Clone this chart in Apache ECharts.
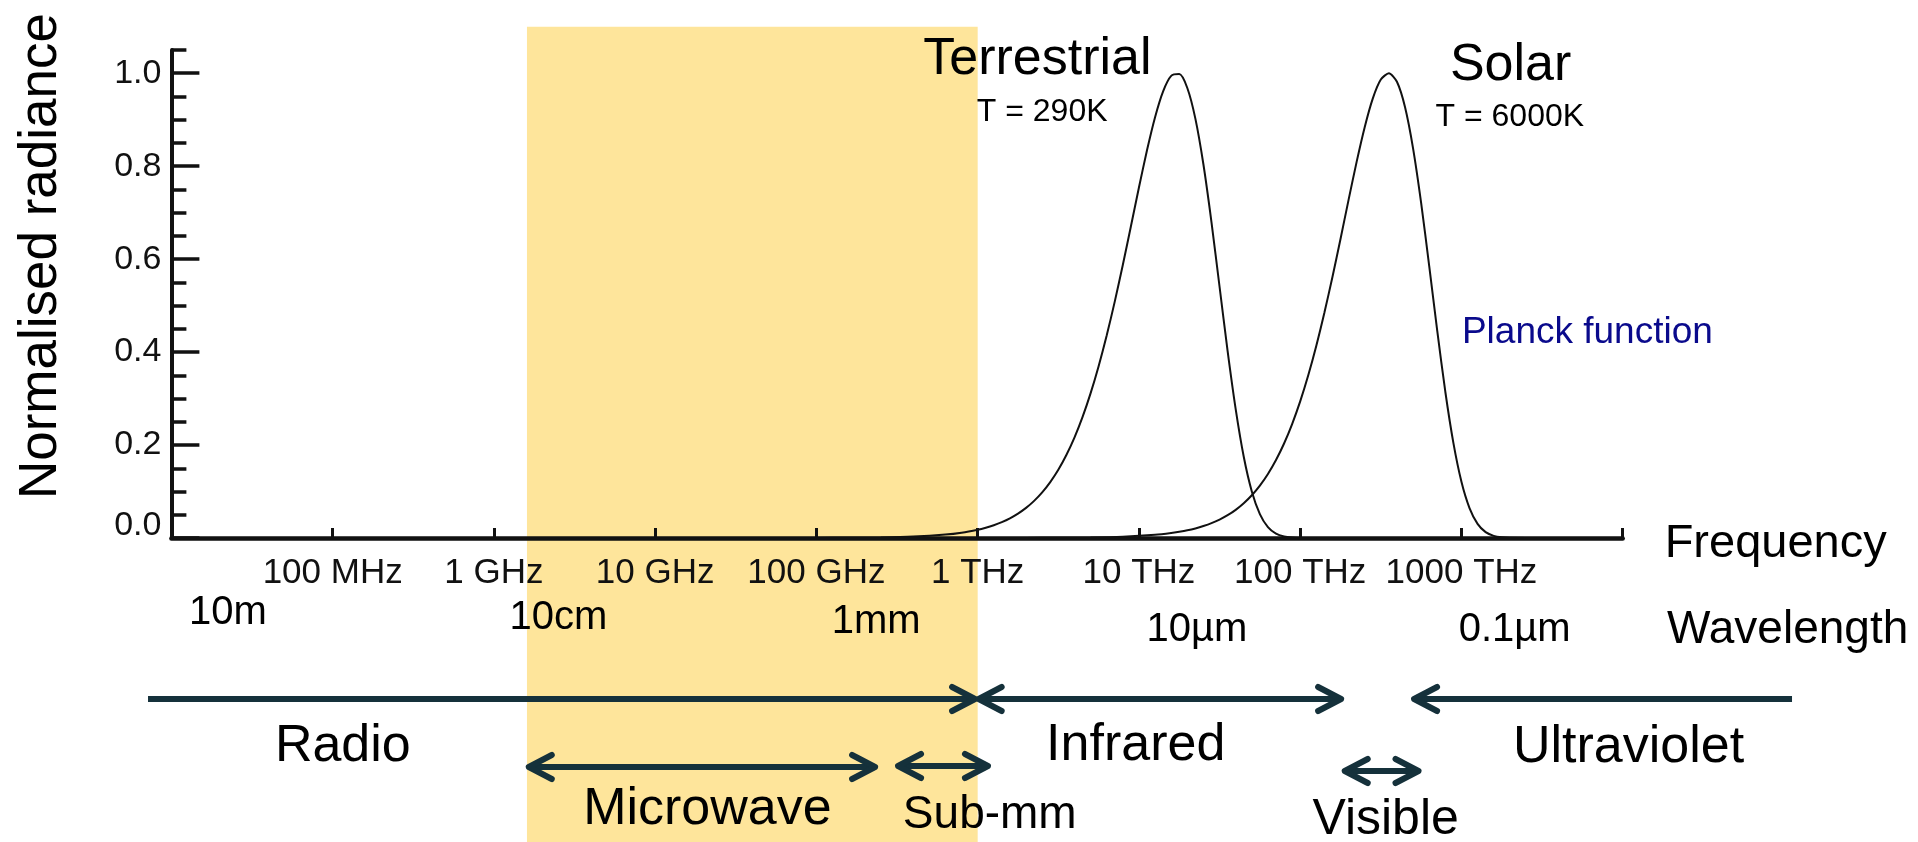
<!DOCTYPE html>
<html>
<head>
<meta charset="utf-8">
<script src="https://cdn.jsdelivr.net/npm/echarts@6/dist/echarts.min.js"></script>
<style>
html, body { margin: 0; padding: 0; background: #ffffff; }
#chart { width: 1918px; height: 842px; }
</style>
</head>
<body>
<div id="chart"></div>
<script>
// ---------------- DATA ----------------
// x is log10(frequency / Hz)
const freqTickLabels = ['', '100 MHz', '1 GHz', '10 GHz', '100 GHz', '1 THz', '10 THz', '100 THz', '1000 THz', ''];
const yMajorTicks = [0, 0.2, 0.4, 0.6, 0.8, 1.0];
const yMinorTicks = [0.05, 0.1, 0.15, 0.25, 0.3, 0.35, 0.45, 0.5, 0.55, 0.65, 0.7, 0.75, 0.85, 0.9, 0.95, 1.05];

const terrestrialLogF = [7.0, 11.0, 11.2, 11.4, 11.6, 11.8, 11.9,
  12.0, 12.05, 12.1, 12.15, 12.2, 12.25, 12.3, 12.35, 12.4, 12.45, 12.5, 12.55, 12.6, 12.65, 12.7, 12.75, 12.8, 12.85, 12.9, 12.95,
  13.0, 13.05, 13.1, 13.15, 13.2, 13.25, 13.3, 13.35, 13.4, 13.45, 13.5, 13.55, 13.6, 13.65, 13.7, 13.75, 13.8, 13.85, 13.9, 13.95,
  14.0, 14.1];
const terrestrialRad = [0, 0.0002, 0.0005, 0.0012, 0.003, 0.0073, 0.0114,
  0.0178, 0.0221, 0.0275, 0.0342, 0.0424, 0.0525, 0.0648, 0.0799, 0.0982, 0.1203, 0.1468, 0.1785, 0.216, 0.26, 0.3111, 0.3696, 0.4355, 0.5086, 0.5875, 0.6704,
  0.7541, 0.8342, 0.9054, 0.961, 0.9942, 0.9981, 0.9683, 0.9023, 0.8036, 0.6793, 0.5406, 0.402, 0.2772, 0.1747, 0.1001, 0.0514, 0.0233, 0.0092, 0.0031, 0.0009,
  0.0002, 0];

const solarLogF = [7.0, 12.3, 12.5, 12.7, 12.9, 13.1, 13.2, 13.25,
  13.3, 13.35, 13.4, 13.45, 13.5, 13.55, 13.6, 13.65, 13.7, 13.75, 13.8, 13.85, 13.9, 13.95, 14.0, 14.05, 14.1, 14.15, 14.2, 14.25,
  14.3, 14.35, 14.4, 14.45, 14.5, 14.55, 14.6, 14.65, 14.7, 14.75, 14.8, 14.85, 14.9, 14.95, 15.0, 15.05, 15.1, 15.15, 15.2, 15.25,
  15.3, 15.4];
const solarRad = [0, 0.0002, 0.0005, 0.0011, 0.0028, 0.0068, 0.0106, 0.0133,
  0.0165, 0.0206, 0.0257, 0.0319, 0.0396, 0.049, 0.0606, 0.0748, 0.092, 0.1128, 0.1378, 0.1677, 0.2033, 0.2452, 0.2939, 0.35, 0.4136, 0.4845, 0.5617, 0.6435,
  0.7275, 0.8093, 0.8839, 0.9454, 0.9864, 1.0, 0.9816, 0.9273, 0.8384, 0.721, 0.5855, 0.4454, 0.3147, 0.2047, 0.121, 0.0644, 0.0305, 0.0126, 0.0045, 0.0014,
  0.0003, 0];

const microwaveBand = [9.205, 12.0];

const wavelengthLabels = ['10m', '10cm', '1mm', '10\u00b5m', '0.1\u00b5m'];
const wavelengthLogF = [7.35, 9.40, 11.37, 13.36, 15.33];

const curveLabels = ['Terrestrial', 'T = 290K', 'Solar', 'T = 6000K'];
const curveLabelLogF = [12.37, 12.40, 15.305, 15.30];

const axisTitles = ['Frequency', 'Wavelength'];
const axisTitleLogF = [16.26, 16.275];

const regionNames = ['Radio', 'Infrared', 'Ultraviolet', 'Microwave', 'Sub-mm', 'Visible'];
const regionFrom = [6.855, 12.0, 14.70, 9.21, 11.50, 14.27];
const regionTo = [11.99, 14.26, 17.05, 11.37, 12.07, 14.74];
const regionHeadFrom = [0, 1, 1, 1, 1, 1];
const regionHeadTo = [1, 1, 0, 1, 1, 1];
const regionLabelLogF = [8.063, 12.98, 16.036, 10.324, 12.075, 14.53];

// ---------------- LAYOUT / STYLE ----------------
const FONT = "'Liberation Sans', Arial, Helvetica, sans-serif";
const INK = '#111111';
const ARROW = '#15313b';
const BAND = '#fee59b';
const AX_MIN = 7, AX_MAX = 16;
const G0 = { left: 171.4, right: 295.3, top: 50, bottom: 304 };
const PX = (1918 - G0.left - G0.right) / (AX_MAX - AX_MIN);
const OV_MIN = 6.5, OV_MAX = 17.5;
const G1 = { left: G0.left - (AX_MIN - OV_MIN) * PX, right: G0.right - (OV_MAX - AX_MAX) * PX, top: 0, bottom: 0 };

// overlay rows (pixel rows of the annotation overlay)
const bandTop = 26.7;
const curveLabelRows = [60, 112, 66, 117];
const curveLabelSizes = [52, 32, 52, 32];
const wavelengthRows = [613, 618, 621.5, 630, 630];
const axisTitleRows = [544, 630];
const axisTitleSizes = [47, 46];
const regionArrowRows = [699, 699, 699, 767, 766, 771];
const regionLabelRows = [747, 746, 748, 810, 815, 820];
const regionLabelSizes = [52, 52, 52, 52, 46, 50];
const HL = 24, HH = 12;

function textSeries(texts, logF, rows, sizes, color, align) {
  return {
    type: 'custom', xAxisIndex: 1, yAxisIndex: 2, z: 6, silent: true,
    data: texts.map((t, i) => [logF[i], rows[i], i]),
    renderItem: function (params, api) {
      const i = api.value(2);
      const p = api.coord([api.value(0), api.value(1)]);
      return {
        type: 'text', x: p[0], y: p[1],
        style: { text: texts[i], fontSize: sizes[i], fontFamily: FONT, fill: color, align: align, verticalAlign: 'middle' }
      };
    }
  };
}

const chart = echarts.init(document.getElementById('chart'), null, { renderer: 'canvas' });

const option = {
  animation: false,
  backgroundColor: '#ffffff',
  grid: [
    { left: G0.left, right: G0.right, top: G0.top, bottom: G0.bottom, containLabel: false },
    { left: G1.left, right: G1.right, top: G1.top, bottom: G1.bottom, containLabel: false }
  ],
  xAxis: [
    {
      type: 'value', gridIndex: 0, min: AX_MIN, max: AX_MAX, interval: 1, z: 3,
      axisLine: { show: true, onZero: false, lineStyle: { color: INK, width: 4.5 } },
      axisTick: { show: true, inside: true, length: 10, lineStyle: { color: INK, width: 3 } },
      axisLabel: { show: true, margin: 18, fontSize: 35, fontFamily: FONT, color: INK,
        formatter: function (v) { return freqTickLabels[Math.round(v - AX_MIN)] || ''; } },
      splitLine: { show: false }
    },
    { type: 'value', gridIndex: 1, min: OV_MIN, max: OV_MAX, show: false }
  ],
  yAxis: [
    {
      type: 'value', gridIndex: 0, min: 0, max: 1.05, position: 'left', z: 3,
      axisLine: { show: true, onZero: false, lineStyle: { color: INK, width: 4 } },
      axisTick: { show: true, inside: true, length: 28, customValues: yMajorTicks, lineStyle: { color: INK, width: 3.5 } },
      axisLabel: { show: true, margin: 10, fontSize: 34, fontFamily: FONT, color: INK,
        customValues: yMajorTicks.filter(v => v > 0),
        formatter: function (v) { return v.toFixed(1); } },
      splitLine: { show: false },
      name: 'Normalised radiance', nameLocation: 'middle', nameGap: 104,
      nameTextStyle: { fontSize: 53, fontFamily: FONT, color: '#000', padding: [0, 0, 0, 76] }
    },
    {
      type: 'value', gridIndex: 0, min: 0, max: 1.05, position: 'left', z: 3,
      axisLine: { show: false },
      axisTick: { show: true, inside: true, length: 15, customValues: yMinorTicks, lineStyle: { color: INK, width: 3.5 } },
      axisLabel: { show: true, margin: 10, fontSize: 34, fontFamily: FONT, color: INK,
        customValues: [0], verticalAlign: 'bottom', lineHeight: 24,
        formatter: function (v) { return v.toFixed(1); } },
      splitLine: { show: false }
    },
    { type: 'value', gridIndex: 1, min: 0, max: 842, inverse: true, show: false }
  ],
  series: [
    {
      name: 'Microwave band', type: 'custom', xAxisIndex: 1, yAxisIndex: 2, z: 0, silent: true,
      data: [[microwaveBand[0], microwaveBand[1]]],
      renderItem: function (params, api) {
        const a = api.coord([api.value(0), bandTop]);
        const b = api.coord([api.value(1), 842]);
        return { type: 'rect', shape: { x: a[0], y: a[1], width: b[0] - a[0], height: b[1] - a[1] }, style: { fill: BAND } };
      }
    },
    {
      name: 'Terrestrial', type: 'line', xAxisIndex: 0, yAxisIndex: 0, z: 4,
      data: terrestrialLogF.map((x, i) => [x, terrestrialRad[i]]),
      showSymbol: false, smooth: 0.25,
      lineStyle: { color: INK, width: 2 }
    },
    {
      name: 'Solar', type: 'line', xAxisIndex: 0, yAxisIndex: 0, z: 4,
      data: solarLogF.map((x, i) => [x, solarRad[i]]),
      showSymbol: false, smooth: 0.25,
      lineStyle: { color: INK, width: 2 }
    },
    {
      name: 'Regions', type: 'custom', xAxisIndex: 1, yAxisIndex: 2, z: 5, silent: true,
      data: regionNames.map((n, i) => [regionFrom[i], regionTo[i], regionArrowRows[i], regionHeadFrom[i], regionHeadTo[i]]),
      renderItem: function (params, api) {
        const a = api.coord([api.value(0), api.value(2)]);
        const b = api.coord([api.value(1), api.value(2)]);
        const y = a[1];
        const hf = api.value(3), ht = api.value(4);
        const st = { stroke: ARROW, lineWidth: 6, lineCap: 'round', lineJoin: 'round', fill: null };
        const ch = [{ type: 'line', shape: { x1: a[0] + (hf ? 3 : 0), y1: y, x2: b[0] - (ht ? 3 : 0), y2: y }, style: { stroke: ARROW, lineWidth: 6 } }];
        if (hf) ch.push({ type: 'polyline', shape: { points: [[a[0] + HL, y - HH], [a[0] + 1, y], [a[0] + HL, y + HH]] }, style: st });
        if (ht) ch.push({ type: 'polyline', shape: { points: [[b[0] - HL, y - HH], [b[0] - 1, y], [b[0] - HL, y + HH]] }, style: st });
        return { type: 'group', children: ch };
      }
    },
    textSeries(regionNames, regionLabelLogF, regionLabelRows, regionLabelSizes, '#000', 'center'),
    textSeries(curveLabels, curveLabelLogF, curveLabelRows, curveLabelSizes, '#000', 'center'),
    textSeries(wavelengthLabels, wavelengthLogF, wavelengthRows, [40, 40, 40, 40, 40], '#000', 'center'),
    textSeries(axisTitles, axisTitleLogF, axisTitleRows, axisTitleSizes, '#000', 'left'),
    textSeries(['Planck function'], [15.003], [333], [37], '#0a0a8c', 'left')
  ]
};

chart.setOption(option);
</script>
</body>
</html>
